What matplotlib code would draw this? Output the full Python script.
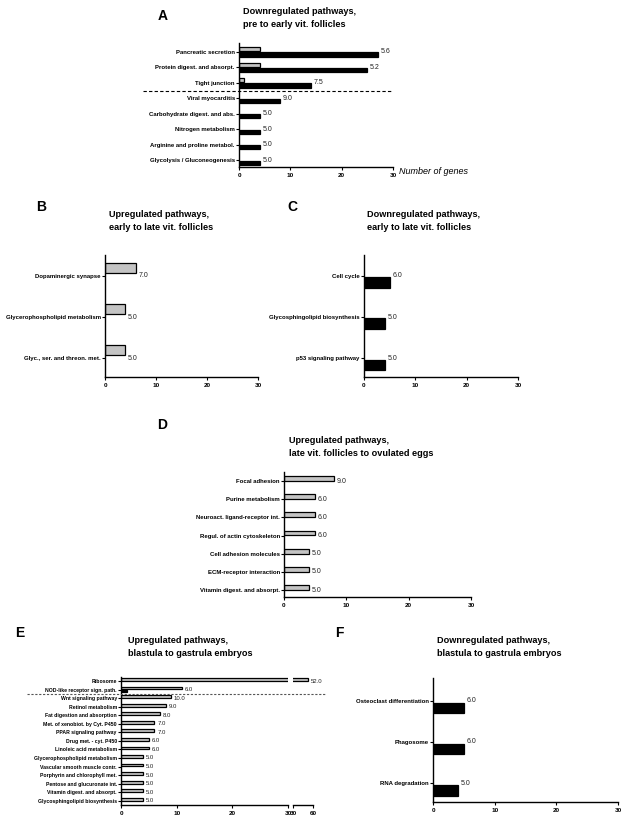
import matplotlib
matplotlib.use("Agg")
import matplotlib.pyplot as plt
import numpy as np

plt.rcParams["font.family"] = ["Liberation Sans", "DejaVu Sans"]

# ---- data (number of genes per pathway, annotated fold values) ----
a_labels = ["Pancreatic secretion", "Protein digest. and absorpt.", "Tight junction",
            "Viral myocarditis", "Carbohydrate digest. and abs.", "Nitrogen metabolism",
            "Arginine and proline metabol.", "Glycolysis / Gluconeogenesis"]
a_up = [4, 4, 1, 0, 0, 0, 0, 0]
a_down = [27, 25, 14, 8, 4, 4, 4, 4]
a_text = ["5.6", "5.2", "7.5", "9.0", "5.0", "5.0", "5.0", "5.0"]

b_labels = ["Dopaminergic synapse", "Glycerophospholipid metabolism", "Glyc., ser. and threon. met."]
b_up = [6, 4, 4]
b_text = ["7.0", "5.0", "5.0"]

c_labels = ["Cell cycle", "Glycosphingolipid biosynthesis", "p53 signaling pathway"]
c_down = [5, 4, 4]
c_text = ["6.0", "5.0", "5.0"]

d_labels = ["Focal adhesion", "Purine metabolism", "Neuroact. ligand-receptor int.",
            "Regul. of actin cytoskeleton", "Cell adhesion molecules",
            "ECM-receptor interaction", "Vitamin digest. and absorpt."]
d_up = [8, 5, 5, 5, 4, 4, 4]
d_text = ["9.0", "6.0", "6.0", "6.0", "5.0", "5.0", "5.0"]

e_labels = ["Ribosome", "NOD-like receptor sign. path.", "Wnt signaling pathway",
            "Retinol metabolism", "Fat digestion and absorption",
            "Met. of xenobiot. by Cyt. P450", "PPAR signaling pathway",
            "Drug met. - cyt. P450", "Linoleic acid metabolism",
            "Glycerophospholipid metabolism", "Vascular smooth muscle contr.",
            "Porphyrin and chlorophyll met.", "Pentose and glucuronate int.",
            "Vitamin digest. and absorpt.", "Glycosphingolipid biosynthesis"]
e_up = [52, 11, 9, 8, 7, 6, 6, 5, 5, 4, 4, 4, 4, 4, 4]
e_down = [0, 1, 0, 0, 0, 0, 0, 0, 0, 0, 0, 0, 0, 0, 0]
e_text = ["52.0", "6.0", "10.0", "9.0", "8.0", "7.0", "7.0", "6.0", "6.0",
          "5.0", "5.0", "5.0", "5.0", "5.0", "5.0"]

f_labels = ["Osteoclast differentiation", "Phagosome", "RNA degradation"]
f_down = [5, 5, 4]
f_text = ["6.0", "6.0", "5.0"]

W, H = 623, 821
GRAY = "#c4c4c4"
fig = plt.figure(figsize=(W / 100, H / 100), dpi=100)


def rect(x0, x1, ytop, ybot):
    return [x0 / W, 1 - ybot / H, (x1 - x0) / W, (ybot - ytop) / H]


def style(ax, lab_fs=4.3, tick_fs=4.6):
    for s in ["top", "right"]:
        ax.spines[s].set_visible(False)
    for s in ["left", "bottom"]:
        ax.spines[s].set_linewidth(1.0)
    ax.tick_params(axis="y", length=2, width=0.8, pad=1, labelsize=lab_fs)
    ax.tick_params(axis="x", length=2.5, width=0.8, pad=1.5, labelsize=tick_fs)
    for t in ax.get_yticklabels() + ax.get_xticklabels():
        t.set_fontweight("bold")


def panel(box, labels, up, down, texts, pad_top, pad_bot, h=0.27, off=0.17,
          lab_fs=4.3, val_fs=5.0):
    ax = fig.add_axes(rect(*box))
    n = len(labels)
    y = -np.arange(n, dtype=float)
    up = np.array(up if up is not None else [0] * n)
    down = np.array(down if down is not None else [0] * n)
    m = up > 0
    ax.barh(y[m] + off, up[m], height=h, color=GRAY, edgecolor="black", linewidth=0.9)
    m = down > 0
    ax.barh(y[m] - off, down[m], height=h, color="black", edgecolor="black", linewidth=0.9)
    for yi, u, d, t in zip(y, up, down, texts):
        ax.annotate(t, (max(u, d), yi), xytext=(2, 0), textcoords="offset points",
                    va="center", ha="left", fontsize=val_fs, color="#222222")
    ax.set_yticks(y, labels)
    ax.set_ylim(-(n - 1) - pad_bot, pad_top)
    ax.set_xlim(0, 30)
    ax.set_xticks([0, 10, 20, 30])
    style(ax, lab_fs)
    return ax


def title(x, y, letter, lx, ly, lines):
    fig.text(lx / W, 1 - ly / H, letter, fontsize=10, fontweight="bold", va="center")
    fig.text(x / W, 1 - y / H, lines, fontsize=6.6, fontweight="bold", va="center",
             linespacing=1.45)


# A
axA = panel((239, 393, 43, 167), a_labels, a_up, a_down, a_text, 0.58, 0.45)
axA.axhline(-2.5, xmin=-0.623, xmax=1.0, color="black", lw=0.8, ls=(0, (3, 2)), clip_on=False)
axA.text(1.04, -0.035, "Number of genes", transform=axA.transAxes, fontsize=6.5,
         style="italic", va="center", ha="left")
title(243, 18, "A", 158, 16, "Downregulated pathways,\npre to early vit. follicles")

# B
panel((105, 258, 255, 377), b_labels, b_up, None, b_text, 0.51, 0.46, h=0.25, off=0.19)
title(109, 221, "B", 36, 207, "Upregulated pathways,\nearly to late vit. follicles")

# C
panel((364, 518, 255, 377), c_labels, None, c_down, c_text, 0.51, 0.46, h=0.25, off=0.16)
title(367, 221, "C", 287, 207, "Downregulated pathways,\nearly to late vit. follicles")

# D
panel((284, 471, 472, 597), d_labels, d_up, None, d_text, 0.5, 0.38, h=0.27, off=0.14)
title(289, 447, "D", 157, 425, "Upregulated pathways,\nlate vit. follicles to ovulated eggs")

# E (broken x axis: 0-30 and 30-60)
axE = panel((121, 288, 677, 805), e_labels, e_up, e_down, e_text, 0.47, 0.5,
            h=0.32, off=0.17, lab_fs=3.7, val_fs=4.3)
# Ribosome label belongs to the second segment
axE.texts[0].set_visible(False)
axE2 = fig.add_axes(rect(293, 313, 677, 805))
axE2.patch.set_visible(False)
ye = -np.arange(len(e_labels), dtype=float)
axE2.barh(ye + 0.17, e_up, height=0.32, color=GRAY, edgecolor="black", linewidth=0.9)
axE2.annotate(e_text[0], (e_up[0], ye[0]), xytext=(2, 0), textcoords="offset points",
              va="center", fontsize=4.3, color="#222222")
axE2.set_xlim(30, 60)
axE2.set_ylim(axE.get_ylim())
axE2.set_xticks([30, 60])
axE2.set_yticks([])
axE2.spines["left"].set_visible(False)
style(axE2)
axE.axhline(-1.5, xmin=-0.563, xmax=1.22, color="#555555", lw=0.8, ls=(0, (2, 1.5)),
            clip_on=False, zorder=5)
title(128, 647, "E", 15, 633, "Upregulated pathways,\nblastula to gastrula embryos")

# F
panel((433, 618, 678, 802), f_labels, None, f_down, f_text, 0.55, 0.46, h=0.25, off=0.18)
title(437, 647, "F", 335, 633, "Downregulated pathways,\nblastula to gastrula embryos")

fig.savefig("out.png", dpi=100)
